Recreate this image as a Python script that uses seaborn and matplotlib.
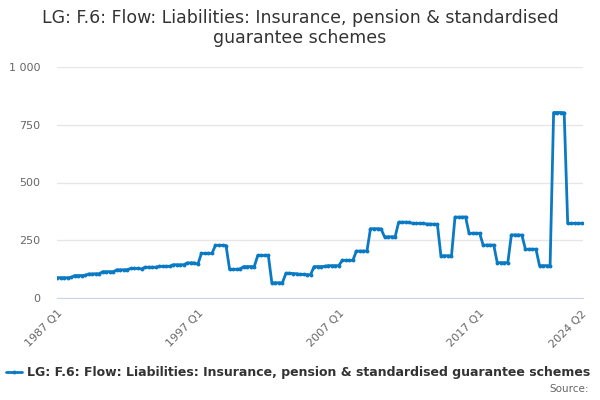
import matplotlib
matplotlib.use("Agg")
import matplotlib.pyplot as plt
import seaborn as sns
import pandas as pd

# quarterly values, 1987 Q1 .. 2024 Q2
values = [
    88,
    88, 88, 88, 89,          # 1987
    97, 97, 97, 98,          # 1988
    104, 104, 105, 105,      # 1989
    114, 114, 114, 114,      # 1990
    122, 122, 122, 123,      # 1991
    128, 128, 128, 126,      # 1992
    133, 133, 133, 133,      # 1993
    137, 137, 137, 137,      # 1994
    144, 144, 144, 144,      # 1995
    152, 152, 152, 146,      # 1996
    193, 193, 193, 193,      # 1997
    228, 228, 228, 227,      # 1998
    124, 124, 124, 126,      # 1999
    136, 136, 136, 136,      # 2000
    184, 184, 184, 184,      # 2001
    66, 66, 66, 66,          # 2002
    107, 107, 106, 105,      # 2003
    102, 102, 101, 101,      # 2004
    136, 136, 136, 137,      # 2005
    140, 140, 140, 140,      # 2006
    163, 163, 163, 163,      # 2007
    203, 203, 203, 203,      # 2008
    300, 300, 300, 299,      # 2009
    265, 265, 265, 265,      # 2010
    328, 328, 328, 327,      # 2011
    323, 323, 323, 323,      # 2012
    320, 320, 319, 319,      # 2013
    183, 183, 183, 182,      # 2014
    350, 350, 350, 351,      # 2015
    280, 280, 280, 280,      # 2016
    229, 229, 229, 229,      # 2017
    153, 153, 153, 153,      # 2018
    273, 273, 273, 272,      # 2019
    211, 211, 211, 211,      # 2020
    140, 140, 140, 139,      # 2021
    803, 803, 803, 802,      # 2022
    323, 323, 323, 323, 323, # 2023 - 2024 Q2
]
quarters = [f"{y} Q{q}" for y in range(1986, 2025) for q in range(1, 5)]
quarters = quarters[quarters.index("1987 Q1"):quarters.index("2024 Q2") + 1]
shown_labels = ["1987 Q1", "1997 Q1", "2007 Q1", "2017 Q1", "2024 Q2"]
y_ticks = [0, 250, 500, 750, 1000]
y_tick_labels = ["0", "250", "500", "750", "1 000"]

series_name = "LG: F.6: Flow: Liabilities: Insurance, pension & standardised guarantee schemes"
line_color = "#0a7ac4"

df = pd.DataFrame({"pos": range(len(values)), "quarter": quarters, "value": values})

sns.set_style("white")
plt.rcParams["font.family"] = ["DejaVu Sans"]

fig = plt.figure(figsize=(6, 4), dpi=100)
ax = fig.add_axes([0.095, 0.255, 0.877, 0.5775])

sns.lineplot(data=df, x="pos", y="value", ax=ax, color=line_color, linewidth=2,
             marker="o", markersize=2.8, markeredgewidth=0, label=series_name)

ax.set_xlim(0, len(values) - 0.6)
ax.set_ylim(0, 1000)
ax.set_yticks(y_ticks)
ax.set_yticklabels(y_tick_labels)
ax.yaxis.grid(True, color="#e6e6e6", linewidth=1)
ax.set_axisbelow(True)

# ticks every 10 quarters, labels only on selected quarters
tick_pos = list(range(0, len(values), 10)) + [len(values) - 1]
ax.set_xticks(tick_pos)
ax.set_xticklabels(["" for _ in tick_pos])
label_pos = [quarters.index(q) for q in shown_labels]
for p, lab in zip(label_pos, shown_labels):
    ax.text(p, -0.045, lab, transform=ax.get_xaxis_transform(), rotation=45,
            ha="right", va="top", fontsize=8, color="#666666", rotation_mode="anchor")

ax.tick_params(axis="x", length=8, width=1, color="#ccd6eb", direction="out")
ax.tick_params(axis="y", length=0, labelsize=8, labelcolor="#666666", pad=12)
for s in ["top", "right", "left"]:
    ax.spines[s].set_visible(False)
ax.spines["bottom"].set_color("#ccd6eb")
ax.set_xlabel("")
ax.set_ylabel("")

ax.legend_.remove()
handles, labels = ax.get_legend_handles_labels()
fig.legend(handles, labels, loc="center", bbox_to_anchor=(0.497, 0.068), frameon=False,
           prop={"weight": "bold", "size": 9}, handlelength=1.3, handletextpad=0.4,
           labelcolor="#333333")

fig.text(0.5, 0.978, "LG: F.6: Flow: Liabilities: Insurance, pension & standardised\nguarantee schemes",
         ha="center", va="top", fontsize=12.5, color="#333333", linespacing=1.15)
fig.text(0.982, 0.015, "Source:", ha="right", va="bottom", fontsize=7.5, color="#666666")

fig.savefig("out.png", dpi=100)
